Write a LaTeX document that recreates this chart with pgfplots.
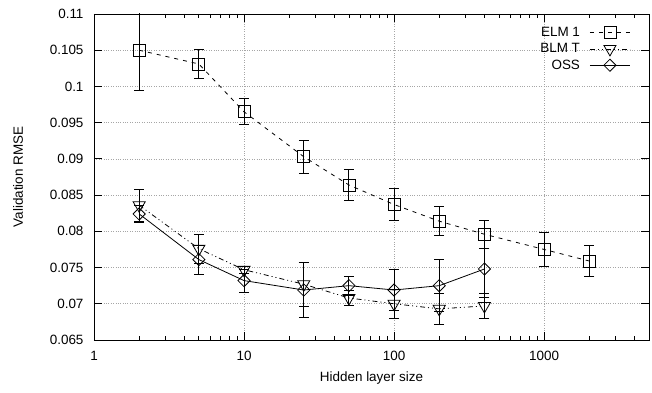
\documentclass[border=0pt]{standalone}
\usepackage{pgfplots}
\pgfplotsset{compat=1.18}
\usepackage{pgfplotstable}
\usepackage{fontspec}
\setmainfont{Liberation Sans}
\usetikzlibrary{calc}

\pgfplotstableread{
x y e
2 0.1050 0.0055
5 0.1031 0.0020
10 0.0965 0.0018
25 0.0903 0.0023
50 0.0864 0.0022
100 0.0837 0.0022
200 0.0814 0.0020
400 0.0796 0.0019
1000 0.0775 0.0024
2000 0.0759 0.0021
}\elm

\pgfplotstableread{
x y e
2 0.0836 0.0022
5 0.0776 0.0020
10 0.0747 0.0005
25 0.0727 0.0030
50 0.0708 0.0010
100 0.0700 0.0020
200 0.0693 0.0021
400 0.0697 0.0017
}\blm

\pgfplotstableread{
x y e
2 0.0824 0.0012
5 0.0761 0.0020
10 0.0732 0.0016
25 0.0719 0.0038
50 0.0725 0.0013
100 0.0719 0.0028
200 0.0725 0.0036
400 0.0748 0.0039
}\oss

\newcommand{\fs}{\fontsize{13.5}{15}\selectfont}

\begin{document}
\begin{tikzpicture}
\begin{semilogxaxis}[
  scale only axis, width=555bp, height=326bp,
  xmin=1, xmax=5000, ymin=0.065, ymax=0.11,
  xtick={1,10,100,1000}, xticklabels={1,10,100,1000},
  minor xtick={2,3,4,5,6,7,8,9,20,30,40,50,60,70,80,90,200,300,400,500,600,700,800,900,2000,3000,4000},
  ytick={0.065,0.07,0.075,0.08,0.085,0.09,0.095,0.1,0.105,0.11},
  yticklabels={0.065,0.07,0.075,0.08,0.085,0.09,0.095,0.1,0.105,0.11},
  tick label style={font=\fs},
  xticklabel style={yshift=-8bp},
  yticklabel style={xshift=-7bp},
  label style={font=\fs},
  xlabel={Hidden layer size}, ylabel={Validation RMSE},
  xlabel style={at={(axis description cs:0.5,-0.1166)}, anchor=center},
  ylabel style={at={(axis description cs:-0.137,0.5)}, anchor=center},
  major tick length=8bp, minor tick length=4bp,
  every tick/.style={black, line width=0.8pt},
  axis line style={black, line width=0.9pt},
  xmajorgrids, ymajorgrids,
  grid style={gray!70, dotted, line width=0.7pt},
  legend plot pos=right,
  legend cell align=right,
  legend style={draw=none, fill=none, font=\fs, at={(rel axis cs:0.975,0.972)}, anchor=north east, row sep=1.5bp},
  legend image code/.code={
    \path[draw=none, fill=none] (0bp,-4bp) rectangle (50bp,4bp);
    \draw[mark repeat=2,mark phase=2,#1] plot coordinates {(8bp,0bp) (28bp,0bp) (48bp,0bp)};
  },
  every axis plot/.append style={black, line width=0.8pt},
  error bars/y dir=both, error bars/y explicit,
  error bars/error bar style={solid, line width=0.9pt},
  error bars/error mark options={solid, black, line width=0.9pt, mark size=5bp, rotate=90},
]
\coordinate (sw) at (rel axis cs:0,0);
\coordinate (ne) at (rel axis cs:1,1);
\addplot[dash pattern=on 4bp off 5bp, mark=square, mark size=6bp, mark options={solid}]
  table[x=x, y=y, y error=e] {\elm};
\addplot[dash pattern=on 5bp off 3bp on 1bp off 3bp on 1bp off 3bp, mark=triangle, mark size=7bp, mark options={solid, rotate=180}]
  table[x=x, y=y, y error=e] {\blm};
\addplot[solid, mark=square, mark size=4.3bp, mark options={solid, rotate=45}]
  table[x=x, y=y, y error=e] {\oss};
\legend{ELM 1, BLM T, OSS}
\end{semilogxaxis}
\pgfresetboundingbox
\path ($(sw)+(-94bp,-53bp)$) rectangle ($(ne)+(3bp,14bp)$);
\end{tikzpicture}
\end{document}
